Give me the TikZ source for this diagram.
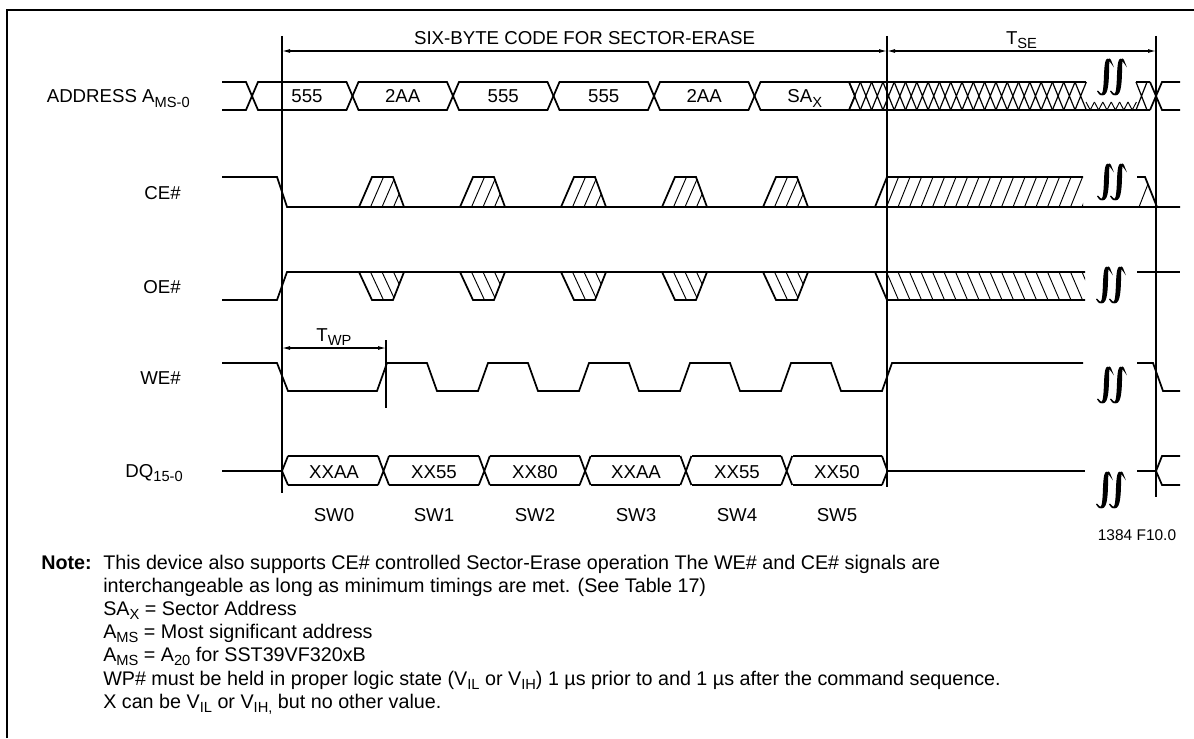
\documentclass[tikz,border=0pt]{standalone}
\usepackage{fontspec}
\setmainfont{Liberation Sans}
\usetikzlibrary{arrows.meta}

\newcommand{\sbs}[1]{\raisebox{-0.45ex}{\fontsize{11}{11}\selectfont #1}}

\tikzset{
  wave/.style={line width=1.3pt, line join=miter},
  hatch/.style={line width=0.7pt},
  marker/.style={line width=0.8pt},
  dim/.style={line width=0.8pt, {Latex[length=6pt,width=3pt]}-{Latex[length=6pt,width=3pt]}},
  lbl/.style={font=\fontsize{14}{17}\selectfont, inner sep=0pt},
  notetxt/.style={font=\fontsize{14.8}{17.5}\selectfont, inner sep=0pt},
  small/.style={font=\fontsize{11.6}{13}\selectfont, inner sep=0pt},
  brk/.pic={
    \foreach \dx in {-6.5,6.5}
      \filldraw[line width=0.9pt] (\dx+7,-14) .. controls (\dx-5,-34) and (\dx+5,34) .. (\dx-7,14)
        .. controls (\dx+10,34) and (\dx,-34) .. (\dx+7,-14) -- cycle;
  }
}

\begin{document}
\begin{tikzpicture}[x=0.75pt, y=-0.75pt]
\useasboundingbox (0,0) rectangle (1194,738);
\draw[line width=1pt] (7,738) -- (7,10) -- (1194,10);

% markers
\coordinate (s0) at (282,36);  \coordinate (s0b) at (282,493);
\coordinate (s1) at (887,36);  \coordinate (s1b) at (887,487);
\coordinate (s2) at (1156,36); \coordinate (s2b) at (1156,497);
\coordinate (t0) at (386,340); \coordinate (t0b) at (386,408);
\draw[marker] (s0) -- (s0b);
\draw[marker] (s1) -- (s1b);
\draw[marker] (s2) -- (s2b);
\draw[marker] (t0) -- (t0b);

\coordinate (d0) at (282,51);
\coordinate (d1) at (887,51);
\coordinate (d2) at (1156,51);
\coordinate (w0) at (282,348);
\coordinate (w1) at (386,348);
\draw[dim] (d0) -- (d1) node[lbl, midway, anchor=base, yshift=5pt] (code) {SIX-BYTE CODE FOR SECTOR-ERASE};
\draw[dim] (d1) -- (d2) node[lbl, midway, anchor=base, yshift=5pt] (tse) {T\sbs{SE}};
\draw[dim] (w0) -- (w1) node[lbl, midway, anchor=base, yshift=5pt] (twp) {T\sbs{WP}};

% signal names
\node[lbl, anchor=base east] (addr) at (190,103) {ADDRESS A\sbs{MS-0}};
\node[lbl, anchor=base east] (ce) at (181,199) {CE\#};
\node[lbl, anchor=base east] (oe) at (181,293) {OE\#};
\node[lbl, anchor=base east] (we) at (181,384) {WE\#};
\node[lbl, anchor=base east] (dq) at (183,477) {DQ\sbs{15-0}};

% address bus
\draw[wave] (222,82) -- (246,82) -- (252,96) -- (246,110) -- (222,110);
\foreach \k in {0,...,5}{
  \pgfmathsetmacro{\ca}{252+100.5*\k}
  \pgfmathsetmacro{\cb}{252+100.5*(\k+1)}
  \draw[wave] (\ca,96) -- (\ca+6,82) -- (\cb-6,82) -- (\cb,96) -- (\cb-6,110) -- (\ca+6,110) -- cycle;
}
\draw[wave] (849,82) -- (1086,82);
\draw[wave] (849,110) -- (1150,110);
\foreach \j in {0,...,20}
  \draw[line width=0.9pt] (849+11.3*\j,82) -- (860.3+11.3*\j,110) (849+11.3*\j,110) -- (860.3+11.3*\j,82);
\foreach \i in {0,...,5}
  \draw[hatch] (1086+8.4*\i,102) -- (1090.2+8.4*\i,110) -- (1094.4+8.4*\i,102);
\draw[wave] (1136,82) -- (1150,82);
\draw[line width=0.9pt] (1136,82) -- (1147,110) (1136,110) -- (1147,82);
\draw[wave] (1180,82) -- (1162,82) -- (1150,110) (1180,110) -- (1162,110) -- (1150,82);

\node[lbl, anchor=base] (a1) at (307,103) {555};
\node[lbl, anchor=base] (a2) at (402.75,103) {2AA};
\node[lbl, anchor=base] (a3) at (503.25,103) {555};
\node[lbl, anchor=base] (a4) at (603.75,103) {555};
\node[lbl, anchor=base] (a5) at (704.25,103) {2AA};
\node[lbl, anchor=base] (a6) at (804.75,103) {SA\sbs{X}};

% CE#
\draw[wave] (222,177) -- (277,177) -- (287,207) -- (1180,207);
\foreach \k in {0,...,4}{
  \pgfmathsetmacro{\bx}{359+101*\k}
  \begin{scope}
    \clip (\bx,207) -- (\bx+13,177) -- (\bx+34,177) -- (\bx+45,207) -- cycle;
    \foreach \h in {11.5,23,34.5}
      \draw[hatch] (\bx+\h,207) -- (\bx+\h+13,177);
  \end{scope}
  \draw[wave] (\bx,207) -- (\bx+13,177) -- (\bx+34,177) -- (\bx+45,207);
}
\begin{scope}
  \clip (875,207) -- (887,177) -- (1083,177) -- (1083,207) -- cycle;
  \foreach \h in {1,...,18}
    \draw[hatch] (875+11.5*\h,207) -- (887+11.5*\h,177);
\end{scope}
\draw[wave] (875,207) -- (887,177) -- (1083,177);
\draw[wave] (1137,177) -- (1145,177) -- (1157,207);
\draw[hatch] (1139,207) -- (1148,184);

% OE#
\draw[wave] (222,300) -- (277,300) -- (287,272) -- (1085,272);
\draw[wave] (1137,272) -- (1180,272);
\foreach \k in {0,...,4}{
  \pgfmathsetmacro{\bx}{359+101*\k}
  \begin{scope}
    \clip (\bx,272) -- (\bx+13,300) -- (\bx+34,300) -- (\bx+45,272) -- cycle;
    \foreach \h in {11.5,23,34.5}
      \draw[hatch] (\bx+\h,272) -- (\bx+\h+13,300);
  \end{scope}
  \draw[wave] (\bx,272) -- (\bx+13,300) -- (\bx+34,300) -- (\bx+45,272);
}
\begin{scope}
  \clip (875,272) -- (887,300) -- (1085,300) -- (1085,272) -- cycle;
  \foreach \h in {1,...,18}
    \draw[hatch] (875+11.5*\h,272) -- (887+11.5*\h,300);
\end{scope}
\draw[wave] (875,272) -- (887,300) -- (1085,300);

% WE#
\draw[wave] (222,363) -- (277,363) -- (288,391) -- (377,391) -- (387,363)
  -- (427,363) -- (437,391) -- (478,391) -- (488,363)
  -- (528,363) -- (538,391) -- (579,391) -- (589,363)
  -- (629,363) -- (639,391) -- (680,391) -- (690,363)
  -- (730,363) -- (740,391) -- (781,391) -- (791,363)
  -- (831,363) -- (841,391) -- (882,391) -- (892,363) -- (1083,363);
\draw[wave] (1137,363) -- (1153,363) -- (1163,391) -- (1180,391);

% DQ
\draw[wave] (222,471) -- (282,471);
\draw[wave] (282,471) -- (288,456);
\draw[wave] (282,471) -- (288,485);
\foreach \k in {0,...,4}{
  \pgfmathsetmacro{\ca}{383.5+100.8*\k}
  \draw[wave] (\ca,471) -- (\ca+5.5,456) (\ca,471) -- (\ca+5.5,485)
              (\ca,471) -- (\ca-5.5,456) (\ca,471) -- (\ca-5.5,485);
}
\foreach \k in {0,...,5}{
  \pgfmathsetmacro{\ca}{282+101.1*\k+(\k>0)*0.4}
  \pgfmathsetmacro{\cb}{383.5+100.8*\k}
  \draw[wave] (\ca+5.5,456) -- (\cb-5.5,456) (\ca+5.5,485) -- (\cb-5.5,485);
}
\draw[wave] (882,456) -- (887.5,471) -- (882,485);
\draw[wave] (887.5,471) -- (1085,471);
\draw[wave] (1137,471) -- (1156,471) -- (1162,456) -- (1180,456);
\draw[wave] (1156,471) -- (1162,485) -- (1180,485);

\node[lbl, anchor=base] (q0) at (334,478) {XXAA};
\node[lbl, anchor=base] (q1) at (434,478) {XX55};
\node[lbl, anchor=base] (q2) at (535,478) {XX80};
\node[lbl, anchor=base] (q3) at (636,478) {XXAA};
\node[lbl, anchor=base] (q4) at (737,478) {XX55};
\node[lbl, anchor=base] (q5) at (837,478) {XX50};

\node[lbl, anchor=base] (sw0) at (334,521) {SW0};
\node[lbl, anchor=base] (sw1) at (434,521) {SW1};
\node[lbl, anchor=base] (sw2) at (535,521) {SW2};
\node[lbl, anchor=base] (sw3) at (636,521) {SW3};
\node[lbl, anchor=base] (sw4) at (737,521) {SW4};
\node[lbl, anchor=base] (sw5) at (837,521) {SW5};

% breaks
\pic at (1111,77) {brk};
\pic at (1111,182) {brk};
\pic at (1110,285) {brk};
\pic at (1111,385) {brk};
\pic at (1110,490) {brk};

\node[small, anchor=base] (fig) at (1137,540) {1384 F10.0};

% notes
\node[notetxt, anchor=base west] (note) at (41,569) {\textbf{Note:}};
\node[notetxt, anchor=base west] (n1) at (103,569) {This device also supports CE\# controlled Sector-Erase operation The WE\# and CE\# signals are};
\node[notetxt, anchor=base west] (n2) at (103,592) {interchangeable as long as minimum timings are met. (See Table 17)};
\node[notetxt, anchor=base west] (n3) at (103,615) {SA\sbs{X} = Sector Address};
\node[notetxt, anchor=base west] (n4) at (103,638) {A\sbs{MS} = Most significant address};
\node[notetxt, anchor=base west] (n5) at (103,661) {A\sbs{MS} = A\sbs{20} for SST39VF320xB};
\node[notetxt, anchor=base west] (n6) at (103,685) {WP\# must be held in proper logic state (V\sbs{IL} or V\sbs{IH}) 1 µs prior to and 1 µs after the command sequence.};
\node[notetxt, anchor=base west] (n7) at (103,708) {X can be V\sbs{IL} or V\sbs{IH,} but no other value.};
\end{tikzpicture}
\end{document}
